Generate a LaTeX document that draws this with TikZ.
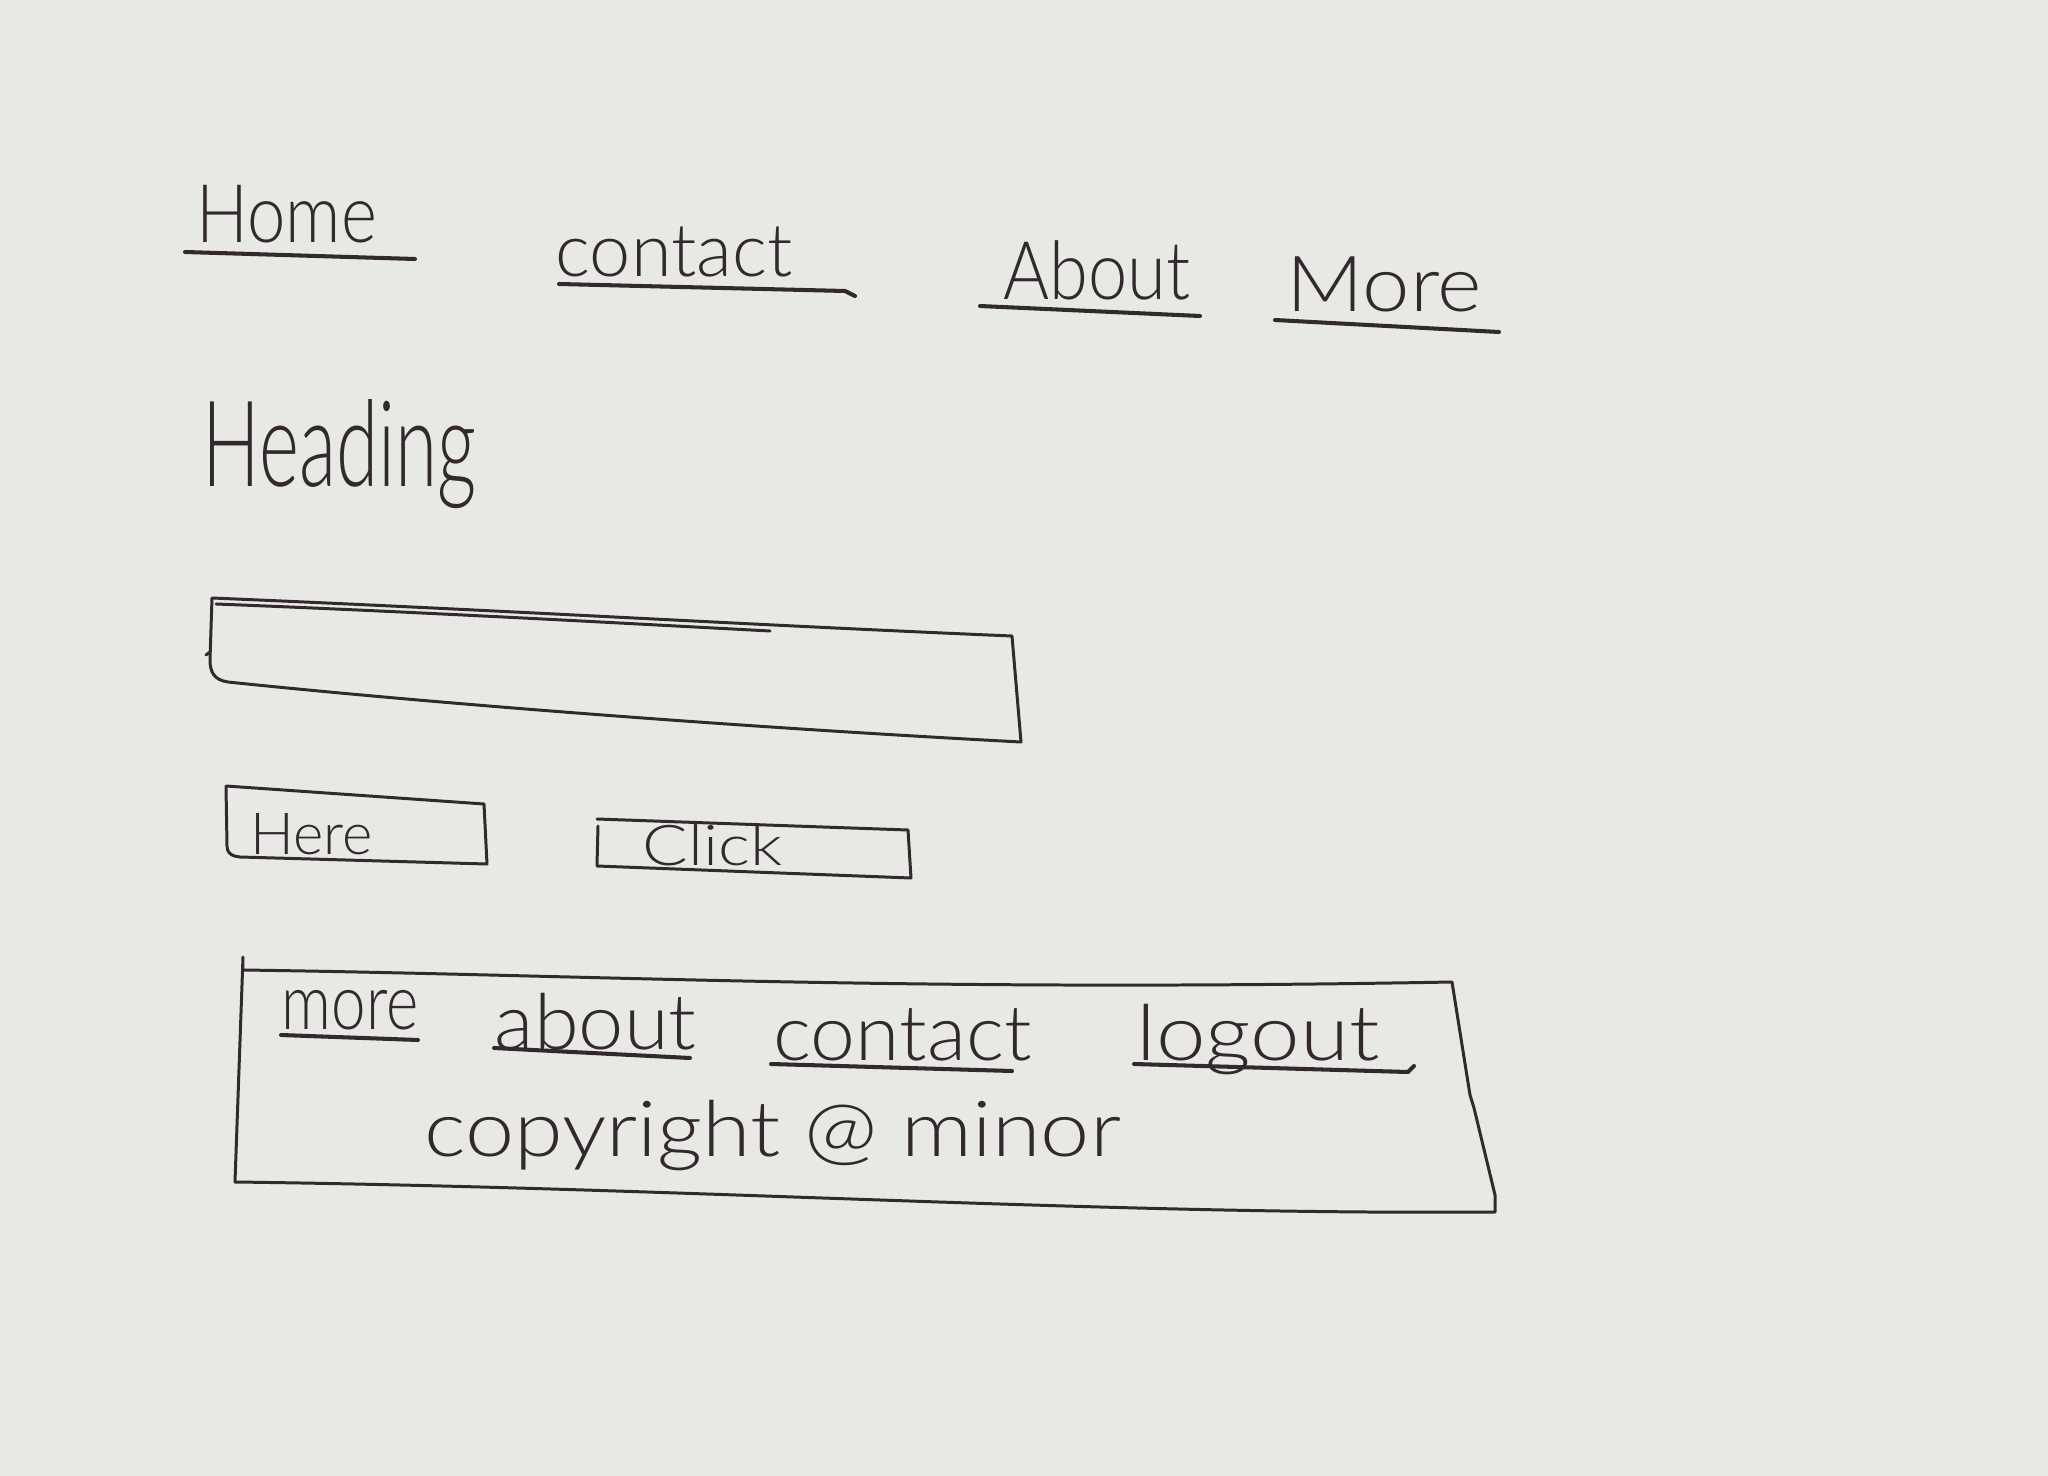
\documentclass[tikz,border=0pt]{standalone}
\usepackage{fontspec}
\newfontfamily\hand{Lato Light}
\usetikzlibrary{calc}
\definecolor{paper}{HTML}{E8E8E5}
\definecolor{ink}{HTML}{32292F}
\newcommand\sx[2]{\scalebox{#1}[1]{#2}}
\newcommand\fs[1]{\hand\fontsize{#1}{#1}\selectfont}
\begin{document}
\begin{tikzpicture}[x=0.01cm, y=-0.01cm,
  pen/.style={draw=ink, line width=0.85pt, line cap=round, line join=round},
  uline/.style={draw=ink, line width=1.15pt, line cap=round, line join=round},
  lbl/.style={inner sep=0pt, anchor=base west, text=ink},
]
% sheet of paper
\fill[paper] (0,0) rectangle (2048,1476);
\useasboundingbox (0,0) rectangle (2048,1476);

% --- top navigation ---
\node[lbl, font=\fs{23}] (home)  at (196,243) {\sx{0.85}{Home}};
\node[lbl, font=\fs{21}] (cont)  at (555,277) {\sx{1.0}{contact}};
\node[lbl, font=\fs{23}] (about) at (1003,300) {\sx{0.87}{About}};
\node[lbl, font=\fs{22}] (more)  at (1286,311) {\sx{1.1}{More}};

\draw[uline] (185,252) -- (415,259);
\draw[uline] (559,284) -- (845,291) -- (855,296);
\draw[uline] (980,306) -- (1200,316);
\draw[uline] (1275,320) -- (1499,332);

% --- heading ---
\node[lbl, font=\fs{34}] (heading) at (202,486) {\sx{0.64}{Heading}};

% --- text input ---
\draw[pen] (212,598) .. controls (500,610) and (750,625) .. (1012,636)
  -- (1021,742)
  .. controls (700,725) and (400,700) .. (228,682)
  .. controls (214,680) and (210,672) .. (210,660)
  -- (212,598);
\draw[pen] (216,604) .. controls (420,612) and (600,622) .. (770,631);
\draw[pen] (210,652) -- (206,655);

% --- buttons ---
\draw[pen] (226,786) -- (484,804) -- (487,864) -- (240,857)
  .. controls (230,856) and (227,852) .. (227,846) -- (226,786);
\node[lbl, font=\fs{16.5}] (here) at (250,854) {Here};

\draw[pen] (597,819) -- (908,830) -- (911,878) -- (597,866) -- (598,826);
\node[lbl, font=\fs{16}] (click) at (642,865) {\sx{1.2}{Click}};

% --- footer ---
\draw[pen] (243,957) -- (243,970)
  .. controls (600,975) and (900,992) .. (1452,982)
  -- (1470,1095) -- (1474,1108) -- (1495,1195) -- (1495,1212)
  .. controls (1100,1215) and (700,1188) .. (235,1182)
  -- (243,957);

\node[lbl, font=\fs{22}] (fmore)   at (281,1029) {\sx{0.8}{more}};
\node[lbl, font=\fs{22}] (fabout)  at (494,1049) {\sx{1.05}{about}};
\node[lbl, font=\fs{22}] (fcont)   at (773,1060) {\sx{1.04}{contact}};
\node[lbl, font=\fs{22}] (flogout) at (1136,1060) {\sx{1.15}{logout}};

\draw[uline] (281,1035) -- (418,1040);
\draw[uline] (494,1048) -- (690,1058);
\draw[uline] (771,1064) -- (1012,1071);
\draw[uline] (1134,1064) -- (1408,1072) -- (1414,1066);

\node[lbl, font=\fs{22}] (copy) at (424,1156) {\sx{1.14}{copyright @ minor}};
\end{tikzpicture}
\end{document}
